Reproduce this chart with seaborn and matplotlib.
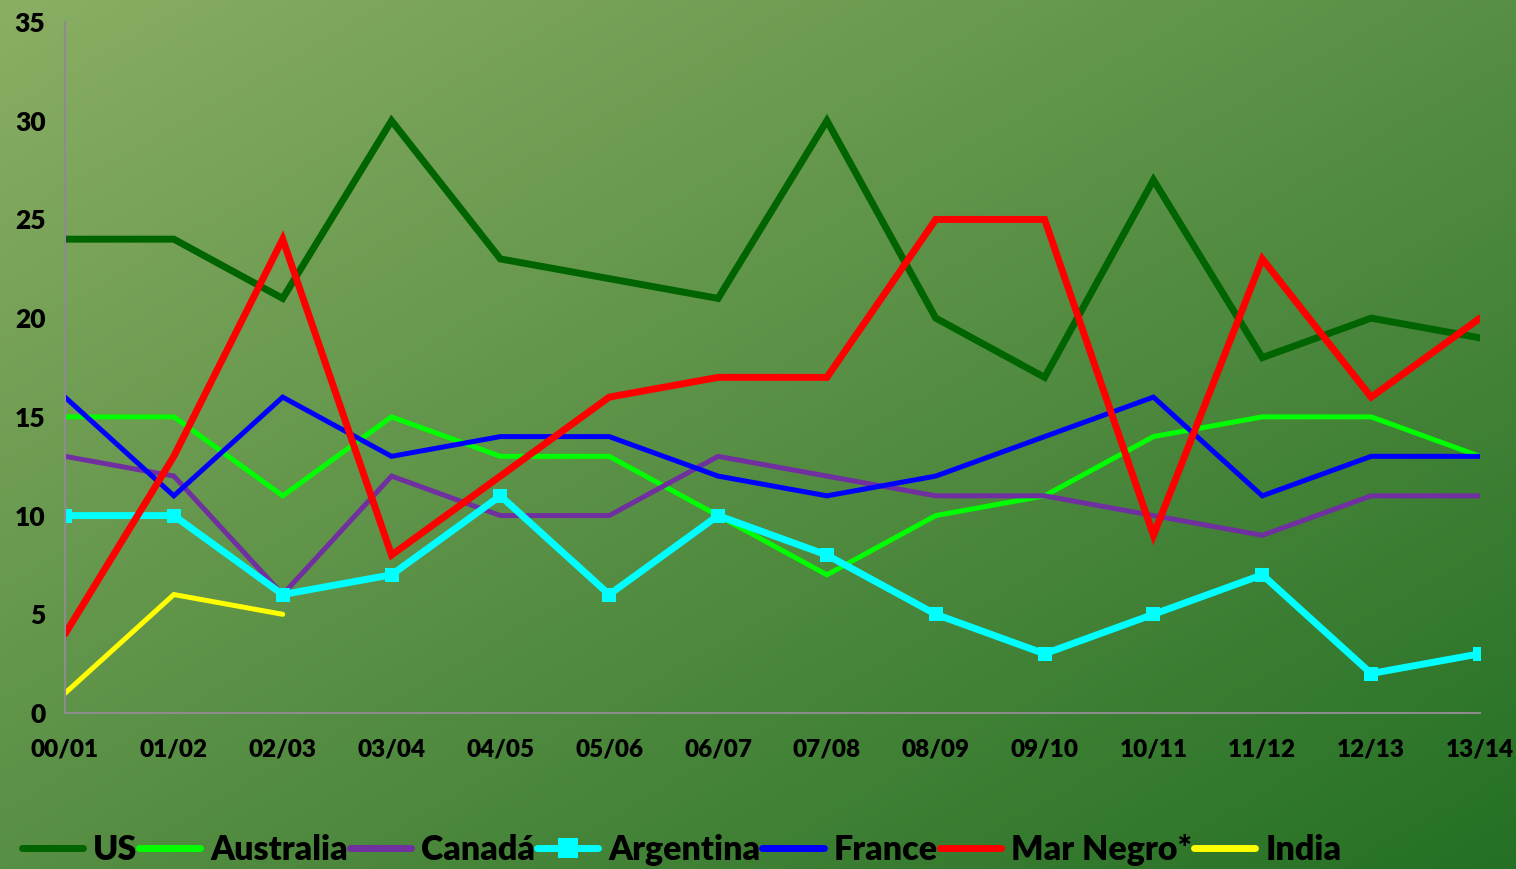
import numpy as np
import pandas as pd
import matplotlib
matplotlib.use("Agg")
import matplotlib.pyplot as plt
import seaborn as sns

# Data
seasons = ["00/01", "01/02", "02/03", "03/04", "04/05", "05/06", "06/07",
           "07/08", "08/09", "09/10", "10/11", "11/12", "12/13", "13/14"]
us = [24, 24, 21, 30, 23, 22, 21, 30, 20, 17, 27, 18, 20, 19]
australia = [15, 15, 11, 15, 13, 13, 10, 7, 10, 11, 14, 15, 15, 13]
canada = [13, 12, 6, 12, 10, 10, 13, 12, 11, 11, 10, 9, 11, 11]
argentina = [10, 10, 6, 7, 11, 6, 10, 8, 5, 3, 5, 7, 2, 3]
france = [16, 11, 16, 13, 14, 14, 12, 11, 12, 14, 16, 11, 13, 13]
mar_negro = [4, 13, 24, 8, 12, 16, 17, 17, 25, 25, 9, 23, 16, 20]
india = [1, 6, 5] + [np.nan] * 11

series = [
    ("US", us, "#006400", 5.0, None),
    ("Australia", australia, "#00ff00", 3.6, None),
    ("Canadá", canada, "#7030a0", 3.6, None),
    ("Argentina", argentina, "#00ffff", 5.0, "s"),
    ("France", france, "#0000ff", 3.6, None),
    ("Mar Negro*", mar_negro, "#ff0000", 5.0, None),
    ("India", india, "#ffff00", 3.6, None),
]

sns.set_style("white")
plt.rcParams["font.family"] = ["Lato", "DejaVu Sans"]
plt.rcParams["font.weight"] = "heavy"
plt.rcParams["text.color"] = "black"

fig = plt.figure(figsize=(15.16, 8.69), dpi=100)

# gradient background
bg = fig.add_axes([0, 0, 1, 1], zorder=-10)
h, w = 200, 350
yy, xx = np.mgrid[0:h, 0:w]
t = (xx / w + yy / h) / 2.0
c0 = np.array([138, 174, 100]) / 255.0
c1 = np.array([36, 112, 36]) / 255.0
img = c0[None, None, :] * (1 - t[..., None]) + c1[None, None, :] * t[..., None]
bg.imshow(img, aspect="auto", extent=[0, 1, 0, 1], origin="upper")
bg.axis("off")

ax = fig.add_axes([65 / 1516, 1 - 713 / 869, (1480 - 65) / 1516, (713 - 22) / 869])
ax.patch.set_alpha(0)

x = np.arange(len(seasons))
for name, vals, color, lw, marker in series:
    df = pd.DataFrame({"x": x, "y": vals})
    sns.lineplot(data=df, x="x", y="y", ax=ax, color=color, linewidth=lw,
                 marker=marker, markersize=10 if marker else 0,
                 markeredgewidth=0, label=name, legend=False,
                 solid_joinstyle="miter")

ax.set_xlim(0, 13)
ax.set_ylim(0, 35)
ax.set_yticks(range(0, 36, 5))
ax.set_xticks(x)
ax.set_xticklabels(seasons)
ax.set_xlabel("")
ax.set_ylabel("")

for s in ["top", "right"]:
    ax.spines[s].set_visible(False)
for s in ["left", "bottom"]:
    ax.spines[s].set_color("#8c8c8c")
    ax.spines[s].set_linewidth(1.5)

ax.tick_params(axis="both", which="major", direction="out", length=8,
               width=1.5, color="#8c8c8c", labelcolor="black")
ax.tick_params(axis="y", labelsize=19, pad=6)
ax.tick_params(axis="x", labelsize=17.5, pad=10)
for lab in ax.get_xticklabels() + ax.get_yticklabels():
    lab.set_fontweight("heavy")

handles, labels = ax.get_legend_handles_labels()
leg = fig.legend(handles, labels, loc="center left", bbox_to_anchor=(0.003, 19 / 869),
                 ncol=7, frameon=False, handlelength=1.8, markerscale=1.4,
                 handletextpad=0.3, columnspacing=0.05, borderpad=0,
                 prop={"weight": "heavy", "size": 24.5})
for txt in leg.get_texts():
    txt.set_color("black")
for ln in leg.get_lines():
    ln.set_linewidth(5.0)

fig.savefig("out.png", dpi=100)
